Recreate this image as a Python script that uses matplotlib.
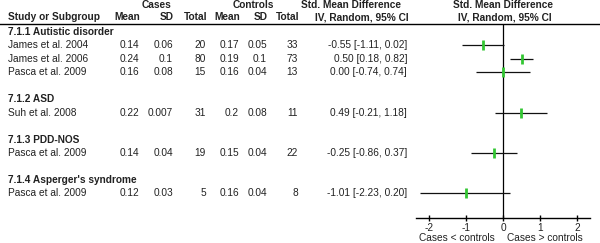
import numpy as np
import matplotlib
matplotlib.use("Agg")
import matplotlib.pyplot as plt

plt.rcParams["font.family"] = ["Liberation Sans", "DejaVu Sans"]
plt.rcParams["axes.unicode_minus"] = False

# rows: kind = "h" subgroup header, "s" study, "" blank
row_labels = ["7.1.1 Autistic disorder", "James et al. 2004", "James et al. 2006",
              "Pasca et al. 2009", "", "7.1.2 ASD", "Suh et al. 2008", "",
              "7.1.3 PDD-NOS", "Pasca et al. 2009", "", "7.1.4 Asperger's syndrome",
              "Pasca et al. 2009"]
row_kind = ["h", "s", "s", "s", "", "h", "s", "", "h", "s", "", "h", "s"]

study_rows = [1, 2, 3, 6, 9, 12]
case_mean = ["0.14", "0.24", "0.16", "0.22", "0.14", "0.12"]
case_sd = ["0.06", "0.1", "0.08", "0.007", "0.04", "0.03"]
case_n = ["20", "80", "15", "31", "19", "5"]
ctrl_mean = ["0.17", "0.19", "0.16", "0.2", "0.15", "0.16"]
ctrl_sd = ["0.05", "0.1", "0.04", "0.08", "0.04", "0.04"]
ctrl_n = ["33", "73", "13", "11", "22", "8"]
smd = [-0.55, 0.50, 0.00, 0.49, -0.25, -1.01]
ci_lo = [-1.11, 0.18, -0.74, -0.21, -0.86, -2.23]
ci_hi = [0.02, 0.82, 0.74, 1.18, 0.37, 0.20]

W, H = 600, 243
fig = plt.figure(figsize=(W / 100, H / 100), dpi=100)

# text layer in pixel coordinates
tx = fig.add_axes([0, 0, 1, 1])
tx.set_xlim(0, W)
tx.set_ylim(H, 0)
tx.axis("off")

fs = 7.3
tc = "#222222"
row_y = lambda i: 32 + 13.45 * i

# headers
tx.text(157, 5, "Cases", ha="center", va="center", fontsize=fs, fontweight="bold", color=tc)
tx.text(253, 5, "Controls", ha="center", va="center", fontsize=fs, fontweight="bold", color=tc)
tx.text(351, 5, "Std. Mean Difference", ha="center", va="center", fontsize=fs, fontweight="bold", color=tc)
tx.text(503, 5, "Std. Mean Difference", ha="center", va="center", fontsize=fs, fontweight="bold", color=tc)
tx.text(8, 17, "Study or Subgroup", ha="left", va="center", fontsize=fs, fontweight="bold", color=tc)
col_right = [140, 174, 207, 240, 268, 299]
for xr, t in zip(col_right, ["Mean", "SD", "Total", "Mean", "SD", "Total"]):
    tx.text(xr, 17, t, ha="right", va="center", fontsize=fs, fontweight="bold", color=tc)
tx.text(409, 17, "IV, Random, 95% CI", ha="right", va="center", fontsize=fs, fontweight="bold", color=tc)
tx.text(505, 17, "IV, Random, 95% CI", ha="center", va="center", fontsize=fs, fontweight="bold", color=tc)
tx.plot([0, W], [24, 24], color="black", lw=1)

for i, (lab, k) in enumerate(zip(row_labels, row_kind)):
    if k:
        tx.text(8, row_y(i), lab, ha="left", va="center", fontsize=fs, color=tc,
                fontweight="bold" if k == "h" else "normal")

cols = [case_mean, case_sd, case_n, ctrl_mean, ctrl_sd, ctrl_n]
for j, r in enumerate(study_rows):
    for xr, col in zip(col_right, cols):
        tx.text(xr - 1, row_y(r), col[j], ha="right", va="center", fontsize=fs, color=tc)
    tx.text(407, row_y(r), f"{smd[j]:.2f} [{ci_lo[j]:.2f}, {ci_hi[j]:.2f}]",
            ha="right", va="center", fontsize=fs, color=tc)

tx.text(457, 238, "Cases < controls", ha="center", va="center", fontsize=fs, color=tc)
tx.text(545, 238, "Cases > controls", ha="center", va="center", fontsize=fs, color=tc)

# forest panel
x0, x1 = 416, 590
ytop, ybot = 24, 218
ax = fig.add_axes([x0 / W, 1 - ybot / H, (x1 - x0) / W, (ybot - ytop) / H])
ax.patch.set_alpha(0)
ax.set_xlim((x0 - 503) / 37, (x1 - 503) / 37)
ax.set_ylim((ybot - 32) / 13.45, (ytop - 32) / 13.45)
for s in ["top", "right", "left"]:
    ax.spines[s].set_visible(False)
ax.spines["bottom"].set_linewidth(1)
ax.set_yticks([])
ax.set_xticks([-2, -1, 0, 1, 2])
ax.tick_params(axis="x", direction="inout", length=5, width=1, labelsize=fs, pad=1,
               labelcolor=tc)
ax.axvline(0, color="black", lw=0.9)

ys = np.array(study_rows)
ax.hlines(ys, ci_lo, ci_hi, color="#111111", lw=0.9)
ax.plot(smd, ys, linestyle="none", marker="|", markersize=6.5, markeredgewidth=2,
        color="#33c633")

fig.savefig("out.png", dpi=100)
